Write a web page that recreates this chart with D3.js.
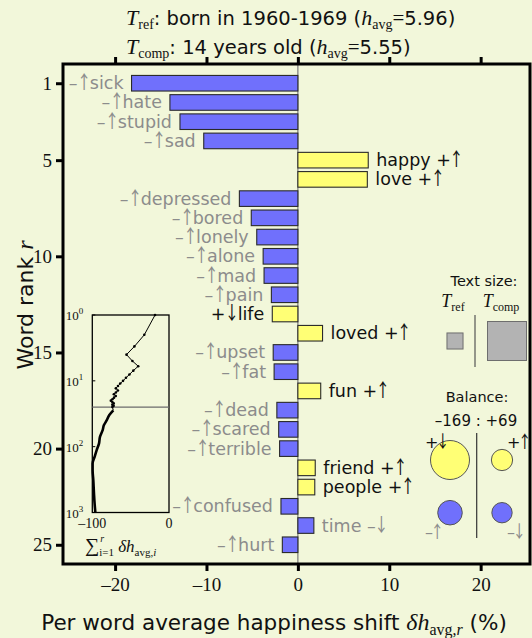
<!DOCTYPE html>
<html>
<head>
<meta charset="utf-8">
<script src="https://cdn.jsdelivr.net/npm/d3@7"></script>
<style>
  body { margin: 0; background: #f2f7da; }
  svg { display: block; }
</style>
</head>
<body>
<svg id="chart" width="532" height="638"></svg>
<script>
// Top 25 words ranked by their contribution to the happiness shift
const words = ["sick", "hate", "stupid", "sad", "happy", "love", "depressed", "bored",
  "lonely", "alone", "mad", "pain", "life", "loved", "upset", "fat", "fun", "dead",
  "scared", "terrible", "friend", "people", "confused", "time", "hurt"];
// Per word shift, % of total
const shifts = [-18.2, -14.0, -12.9, -10.3, 7.7, 7.6, -6.4, -5.1, -4.5, -3.8, -3.7,
  -2.9, -2.8, 2.7, -2.7, -2.6, 2.5, -2.3, -2.1, -2.0, 1.9, 1.85, -1.85, 1.75, -1.7];
// "+up": happier word used more, "+down": happier word used less,
// "-up": sadder word used more, "-down": sadder word used less
const kinds = ["-up", "-up", "-up", "-up", "+up", "+up", "-up", "-up", "-up", "-up",
  "-up", "-up", "+down", "+up", "-up", "-up", "+up", "-up", "-up", "-up", "+up", "+up",
  "-up", "-down", "-up"];

const xTicks = [-20, -10, 0, 10, 20];
const rankTicks = [1, 5, 10, 15, 20, 25];

// Cumulative shift beyond the top 25 words
const tailRanks = [28, 33, 40, 47, 56, 71, 90, 113, 143, 180, 228, 322, 516, 731, 1000];
const tailCumulative = [-72.6, -77.8, -81.3, -84.8, -86.5, -90, -91.3, -94.3, -97,
  -99.6, -99.6, -98.7, -97.8, -97, -96];
const insetXTicks = [-100, 0];
const insetYTicks = [1, 10, 100, 1000];

// Balance of contributions by kind
const balanceKinds = ["+down", "+up", "-up", "-down"];
const balanceValues = [-121, 36, -48, 33];
const balanceTotals = ["–169", "+69"];

// Relative text size of the two texts
const textSizeKeys = ["ref", "comp"];
const textSizeValues = [1, 5.9];

const BLUE = "#7070fc", YELLOW = "#ffff75", GRAY_TXT = "#8c8c8c";
const SANS = "'DejaVu Sans', sans-serif";
const SERIF = "'Liberation Serif', 'DejaVu Serif', serif";
const ARROW = "'Noto Sans CJK SC', 'DejaVu Sans', sans-serif";

const svg = d3.select("#chart");
svg.append("rect").attr("width", 532).attr("height", 638).attr("fill", "#f2f7da");

const plot = { left: 63, right: 530, top: 64, bottom: 564 };
const x = d3.scaleLinear().domain([-25.7, 25.4]).range([plot.left, plot.right]);
const y = d3.scaleLinear().domain([0, 26]).range([plot.top, plot.bottom]);
const barH = 15.6;

const fillOf = k => (k === "+up" || k === "+down") ? YELLOW : BLUE;
const colorOf = k => (k === "+up" || k === "+down") ? "#111" : GRAY_TXT;
const signOf = k => k[0] === "+" ? "+" : "–";
// slim arrows (half-width forms)
const arrowOf = k => k.endsWith("up") ? "\uFFEA" : "\uFFEC";

const data = words.map((w, i) => ({ word: w, value: shifts[i], kind: kinds[i], rank: i + 1 }));

// zero line
svg.append("line")
  .attr("x1", x(0)).attr("x2", x(0)).attr("y1", plot.top).attr("y2", plot.bottom)
  .attr("stroke", "#7a7a7a").attr("stroke-width", 1.2);

// bars
svg.append("g").selectAll("rect").data(data).join("rect")
  .attr("x", d => x(Math.min(0, d.value)))
  .attr("width", d => Math.abs(x(d.value) - x(0)))
  .attr("y", d => y(d.rank) - barH / 2)
  .attr("height", barH)
  .attr("fill", d => fillOf(d.kind))
  .attr("stroke", "#2a2a2a").attr("stroke-width", 1.1);

// word labels: sign and arrow before the word on the left, after it on the right
const labels = svg.append("g").selectAll("text").data(data).join("text")
  .attr("x", d => d.value < 0 ? x(d.value) - 8 : x(d.value) + 8)
  .attr("y", d => y(d.rank) + 6)
  .attr("text-anchor", d => d.value < 0 ? "end" : "start")
  .attr("font-family", SANS).attr("font-size", 17.5)
  .attr("fill", d => colorOf(d.kind));
labels.each(function (d) {
  const t = d3.select(this);
  if (d.value < 0) {
    t.append("tspan").text(signOf(d.kind));
    t.append("tspan").attr("font-family", ARROW).attr("font-size", 18.5).attr("dx", 2).text(arrowOf(d.kind));
    t.append("tspan").attr("dx", 1).text(d.word);
  } else {
    t.append("tspan").text(d.word + " " + signOf(d.kind));
    t.append("tspan").attr("font-family", ARROW).attr("font-size", 18.5).attr("dx", 1).text(arrowOf(d.kind));
  }
});

// frame
svg.append("rect")
  .attr("x", plot.left).attr("y", plot.top)
  .attr("width", plot.right - plot.left).attr("height", plot.bottom - plot.top)
  .attr("fill", "none").attr("stroke", "#000").attr("stroke-width", 3);

// axes
const bottomAxis = d3.axisBottom(x).tickValues(xTicks).tickSize(6).tickPadding(7)
  .tickFormat(d => d < 0 ? "–" + Math.abs(d) : d);
const gb = svg.append("g").attr("transform", `translate(0,${plot.bottom + 1})`).call(bottomAxis);
const gt = svg.append("g").attr("transform", `translate(0,${plot.top - 1})`)
  .call(d3.axisTop(x).tickValues(xTicks).tickSize(6).tickFormat(""));
const gl = svg.append("g").attr("transform", `translate(${plot.left - 1},0)`)
  .call(d3.axisLeft(y).tickValues(rankTicks).tickSize(6).tickPadding(4));
[gb, gt, gl].forEach(g => {
  g.select(".domain").remove();
  g.selectAll(".tick line").attr("stroke", "#000").attr("stroke-width", 3);
  g.selectAll(".tick text").attr("font-family", SERIF).attr("font-size", 19).attr("fill", "#111");
});

// axis titles
const xt = svg.append("text").attr("x", 274).attr("y", 630).attr("text-anchor", "middle")
  .attr("font-family", SANS).attr("font-size", 21.5).attr("fill", "#111");
xt.append("tspan").text("Per word average happiness shift ");
xt.append("tspan").attr("font-family", SERIF).attr("font-style", "italic").attr("font-size", 24).text("δh");
xt.append("tspan").attr("font-family", SERIF).attr("font-size", 16).attr("dy", 5).text("avg,");
xt.append("tspan").attr("font-family", SERIF).attr("font-style", "italic").attr("font-size", 16).text("r");
xt.append("tspan").attr("dy", -5).text(" (%)");

const yt = svg.append("text").attr("transform", "translate(33,305) rotate(-90)")
  .attr("text-anchor", "middle").attr("font-family", SANS).attr("font-size", 22).attr("fill", "#111");
yt.append("tspan").text("Word rank ");
yt.append("tspan").attr("font-family", SERIF).attr("font-style", "italic").attr("font-size", 24).text("r");

// title
function titleLine(yPos, sub, rest, avg) {
  const t = svg.append("text").attr("x", 126).attr("y", yPos)
    .attr("font-family", SANS).attr("font-size", 19.5).attr("fill", "#111");
  t.append("tspan").attr("font-family", SERIF).attr("font-style", "italic").attr("font-size", 22).text("T");
  t.append("tspan").attr("font-family", SERIF).attr("font-size", 14).attr("dy", 4).text(sub);
  t.append("tspan").attr("dy", -4).text(": " + rest + " (");
  t.append("tspan").attr("font-family", SERIF).attr("font-style", "italic").attr("font-size", 22).text("h");
  t.append("tspan").attr("font-family", SERIF).attr("font-size", 14).attr("dy", 4).text("avg");
  t.append("tspan").attr("font-family", SERIF).attr("font-size", 21).attr("dy", -4).text("=");
  t.append("tspan").text(avg + ")");
}
titleLine(25, "ref", "born in 1960-1969", "5.96");
titleLine(54, "comp", "14 years old", "5.55");

// ---- inset: cumulative shift against rank ----
const inset = { left: 92.3, right: 169, top: 315, bottom: 512.5 };
const ix = d3.scaleLinear().domain([-100, 0]).range([inset.left, inset.right]);
const iy = d3.scaleLog().domain([1, 1000]).range([inset.top, inset.bottom]);
const cum = d3.cumsum(shifts);
const curve = Array.from(cum, (c, i) => ({ r: i + 1, c }))
  .concat(tailRanks.map((r, i) => ({ r, c: tailCumulative[i] })));

svg.append("rect").attr("x", inset.left).attr("y", inset.top)
  .attr("width", inset.right - inset.left).attr("height", inset.bottom - inset.top)
  .attr("fill", "none").attr("stroke", "#000").attr("stroke-width", 1.3);
svg.append("line").attr("x1", inset.left).attr("x2", inset.right)
  .attr("y1", iy(words.length)).attr("y2", iy(words.length))
  .attr("stroke", "#6b6b6b").attr("stroke-width", 1.2);
svg.append("path").datum(curve.slice(0, words.length + 1))
  .attr("d", d3.line().x(d => ix(d.c)).y(d => iy(d.r)))
  .attr("fill", "none").attr("stroke", "#000").attr("stroke-width", 1);
svg.append("path").datum(curve.slice(words.length))
  .attr("d", d3.line().x(d => ix(d.c)).y(d => iy(d.r)).curve(d3.curveMonotoneY))
  .attr("fill", "none").attr("stroke", "#000").attr("stroke-width", 2.6);
svg.append("g").selectAll("circle").data(curve.slice(0, words.length)).join("circle")
  .attr("cx", d => ix(d.c)).attr("cy", d => iy(d.r)).attr("r", 1.3).attr("fill", "#000");

// inset tick labels
svg.append("g").selectAll("text").data(insetXTicks).join("text")
  .attr("x", d => ix(d)).attr("y", 528).attr("text-anchor", "middle")
  .attr("font-family", SERIF).attr("font-size", 14).attr("fill", "#111")
  .text(d => d < 0 ? "–" + Math.abs(d) : d);
const yl = svg.append("g").selectAll("text").data(insetYTicks).join("text")
  .attr("x", inset.left - 9).attr("y", d => iy(d) + 5).attr("text-anchor", "end")
  .attr("font-family", SERIF).attr("font-size", 13).attr("fill", "#111");
yl.append("tspan").text("10");
yl.append("tspan").attr("font-size", 9).attr("dy", -6).text(d => Math.round(Math.log10(d)));
svg.append("g").selectAll("line").data(insetYTicks).join("line")
  .attr("x1", inset.left).attr("x2", inset.left + 3)
  .attr("y1", d => iy(d)).attr("y2", d => iy(d)).attr("stroke", "#000");

// inset axis title
const it = svg.append("text").attr("x", 85).attr("y", 552)
  .attr("font-family", SERIF).attr("font-size", 17).attr("fill", "#111");
it.append("tspan").attr("font-size", 20).text("∑");
it.append("tspan").attr("font-size", 10).attr("font-style", "italic").attr("dy", -10).attr("dx", 1).text("r");
it.append("tspan").attr("font-size", 11).attr("dy", 14).attr("dx", -5).text("i");
it.append("tspan").attr("font-size", 11).text("=1");
it.append("tspan").attr("font-style", "italic").attr("dy", -4).text(" δh");
it.append("tspan").attr("font-size", 11).attr("dy", 4).text("avg,");
it.append("tspan").attr("font-size", 11).attr("font-style", "italic").text("i");

// ---- text size legend ----
svg.append("text").attr("x", 484).attr("y", 286).attr("text-anchor", "middle")
  .attr("font-family", SANS).attr("font-size", 14.5).attr("fill", "#111").text("Text size:");
const tsX = { ref: 455, comp: 507 };
textSizeKeys.forEach(k => {
  const t = svg.append("text").attr("x", tsX[k] - (k === "ref" ? 2 : 6)).attr("y", 307)
    .attr("text-anchor", "middle").attr("font-family", SERIF).attr("fill", "#111");
  t.append("tspan").attr("font-style", "italic").attr("font-size", 18).text("T");
  t.append("tspan").attr("font-size", 12).attr("dy", 4).text(k);
});
const side = d3.scaleSqrt().domain([0, d3.max(textSizeValues)]).range([0, 39]);
const sqY = 341;
textSizeKeys.forEach((k, i) => {
  const s = side(textSizeValues[i]);
  svg.append("rect").attr("x", tsX[k] - s / 2).attr("y", sqY - s / 2)
    .attr("width", s).attr("height", s)
    .attr("fill", "#b3b3b3").attr("stroke", "#6e6e6e").attr("stroke-width", 1);
});
svg.append("line").attr("x1", 475).attr("x2", 475).attr("y1", 315).attr("y2", 367)
  .attr("stroke", "#555").attr("stroke-width", 1.2);

// ---- balance legend ----
svg.append("text").attr("x", 477).attr("y", 402).attr("text-anchor", "middle")
  .attr("font-family", SANS).attr("font-size", 14.5).attr("fill", "#111").text("Balance:");
svg.append("text").attr("x", 476).attr("y", 426).attr("text-anchor", "middle")
  .attr("font-family", SANS).attr("font-size", 15).attr("fill", "#111")
  .text(balanceTotals[0] + " : " + balanceTotals[1]);
svg.append("line").attr("x1", 476.7).attr("x2", 476.7).attr("y1", 433).attr("y2", 538)
  .attr("stroke", "#333").attr("stroke-width", 1.2);
const rad = d3.scaleSqrt().domain([0, d3.max(balanceValues, Math.abs)]).range([0, 19.5]);
const balPos = {
  "+down": [450, 460], "+up": [502, 460], "-up": [450, 512.7], "-down": [502, 512.7]
};
balanceKinds.forEach((k, i) => {
  svg.append("circle").attr("cx", balPos[k][0]).attr("cy", balPos[k][1])
    .attr("r", rad(Math.abs(balanceValues[i])))
    .attr("fill", fillOf(k)).attr("stroke", "#555").attr("stroke-width", 1);
});
const balLabel = [
  { k: "+down", x: 425, y: 448 }, { k: "+up", x: 507, y: 448 },
  { k: "-up", x: 425, y: 538 }, { k: "-down", x: 507, y: 538 }
];
balLabel.forEach(b => {
  const t = svg.append("text").attr("x", b.x).attr("y", b.y)
    .attr("font-family", SANS).attr("font-size", 16).attr("fill", colorOf(b.k));
  t.append("tspan").text(signOf(b.k));
  t.append("tspan").attr("font-family", ARROW).attr("font-size", 17).text(arrowOf(b.k));
});
</script>
</body>
</html>
